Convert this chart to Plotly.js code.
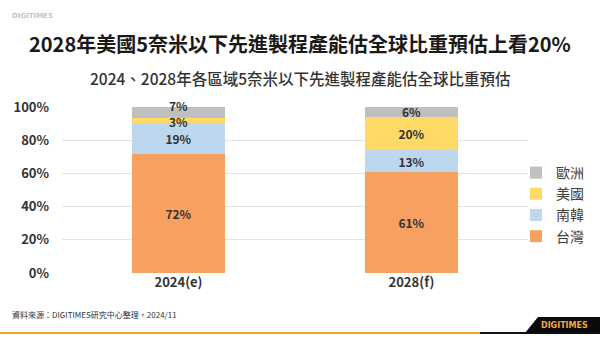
<!DOCTYPE html>
<html>
<head>
<meta charset="utf-8">
<script src="https://cdn.plot.ly/plotly-3.0.1.min.js"></script>
<style>html,body{margin:0;padding:0;background:#fff;}#chart{width:600px;height:338px;}</style>
</head>
<body>
<div id="chart"></div>
<script>
// Data
const categories = ["2024(e)", "2028(f)"];
const regions = ["台灣", "南韓", "美國", "歐洲"];
const taiwan = [71.7, 60.8];
const korea = [18.7, 13.0];
const usa = [2.8, 20.4];
const europe = [6.8, 5.8];
const yTickVals = [0, 20, 40, 60, 80, 100];
const yTickText = ["0%", "20%", "40%", "60%", "80%", "100%"];

const colors = ["#F8A062", "#BDD7EE", "#FFD966", "#BFBFBF"];
const series = [taiwan, korea, usa, europe];

const FONT = "'Noto Sans CJK TC', 'Noto Sans', sans-serif";
const LABEL_FONT = {family: FONT, size: 12, color: "#333333", weight: 700};

const traces = series.map((vals, i) => ({
  type: "bar",
  name: regions[i],
  x: categories,
  y: vals,
  marker: {color: colors[i], line: {width: 0}},
  width: 0.4,
  texttemplate: "%{y:.0f}%",
  // the thin 2024 US / Europe segments get their labels as annotations (placed as in the reference)
  textposition: (i >= 2) ? ["none", "inside"] : "inside",
  insidetextanchor: "middle",
  constraintext: "none",
  textangle: 0,
  textfont: LABEL_FONT,
  hoverinfo: "skip"
}));

// margins -> plot area from x 62..528, y 107..273
const L = 62, R = 72, T = 107, B = 65;
const W = 600, H = 338;
const pw = W - L - R, ph = H - T - B;
const px = x => (x - L) / pw;
const py = y => (H - B - y) / ph;

const base2024US = taiwan[0] + korea[0];
const total2024 = base2024US + usa[0] + europe[0];

const layout = {
  width: W, height: H,
  margin: {l: L, r: R, t: T, b: B, autoexpand: false},
  paper_bgcolor: "#ffffff",
  plot_bgcolor: "#ffffff",
  barmode: "stack",
  bargap: 0.6,
  showlegend: true,
  legend: {
    x: px(516), y: py(157), xanchor: "left", yanchor: "top",
    traceorder: "reversed",
    font: {family: FONT, size: 14, color: "#404040"},
    itemwidth: 30, tracegroupgap: 0,
    bgcolor: "rgba(0,0,0,0)"
  },
  xaxis: {
    type: "category",
    tickfont: {family: FONT, size: 13, color: "#333333", weight: 700},
    showgrid: false, zeroline: false, showline: false, ticks: ""
  },
  yaxis: {
    range: [0, 100],
    tickvals: yTickVals, ticktext: yTickText,
    tickfont: {family: FONT, size: 13, color: "#333333", weight: 700},
    showgrid: true, gridcolor: "#E3E3E3", gridwidth: 1,
    zeroline: false, showline: false, ticks: "", ticklabelstandoff: 12
  },
  annotations: [
    {text: Math.round(europe[0]) + "%", xref: "x", yref: "y",
     x: categories[0], y: total2024, yshift: 2, xanchor: "center", yanchor: "middle", showarrow: false,
     font: LABEL_FONT},
    {text: Math.round(usa[0]) + "%", xref: "x", yref: "y",
     x: categories[0], y: base2024US + usa[0] / 2, yshift: -1, xanchor: "center", yanchor: "middle", showarrow: false,
     font: LABEL_FONT},
    {text: "2028年美國5奈米以下先進製程產能估全球比重預估上看20%", xref: "paper", yref: "paper",
     x: px(300), y: py(43), xanchor: "center", yanchor: "middle", showarrow: false,
     font: {family: FONT, size: 20, color: "#1a1a1a", weight: 700}},
    {text: "2024、2028年各區域5奈米以下先進製程產能估全球比重預估", xref: "paper", yref: "paper",
     x: px(300), y: py(78), xanchor: "center", yanchor: "middle", showarrow: false,
     font: {family: FONT, size: 15.5, color: "#333333", weight: 500}},
    {text: "DIGITIMES", xref: "paper", yref: "paper",
     x: px(10), y: py(16), xanchor: "left", yanchor: "middle", showarrow: false,
     font: {family: "'DejaVu Sans', sans-serif", size: 7, color: "#C4C4C4", weight: 700}},
    {text: "資料來源：DIGITIMES研究中心整理，2024/11", xref: "paper", yref: "paper",
     x: px(10), y: py(314), xanchor: "left", yanchor: "middle", showarrow: false,
     font: {family: FONT, size: 8, color: "#333333"}},
    {text: "DIGITIMES", xref: "paper", yref: "paper",
     x: px(564), y: py(325), xanchor: "center", yanchor: "middle", showarrow: false,
     font: {family: "'DejaVu Sans', sans-serif", size: 8, color: "#F2A93B", weight: 700}}
  ],
  shapes: [
    {type: "line", xref: "paper", yref: "paper", x0: px(0), x1: px(480), y0: py(333), y1: py(333),
     line: {color: "#F2A230", width: 2}},
    {type: "line", xref: "paper", yref: "paper", x0: px(480), x1: px(600), y0: py(333), y1: py(333),
     line: {color: "#111111", width: 2}},
    {type: "path", xref: "paper", yref: "paper",
     path: `M ${px(525)} ${py(333)} L ${px(538)} ${py(317)} L ${px(600)} ${py(317)} L ${px(600)} ${py(333)} Z`,
     fillcolor: "#0a0a0a", line: {width: 0}}
  ]
};

Plotly.newPlot("chart", traces, layout, {displayModeBar: false, staticPlot: true});
</script>
</body>
</html>
